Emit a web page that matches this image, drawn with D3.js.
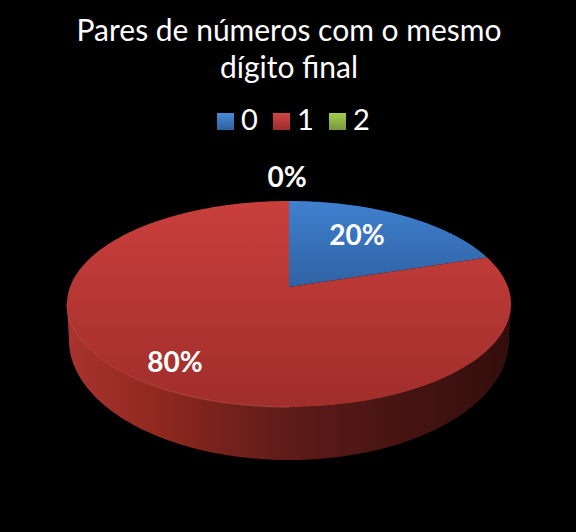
<!DOCTYPE html>
<html>
<head>
<meta charset="utf-8">
<script src="https://cdn.jsdelivr.net/npm/d3@7/dist/d3.min.js"></script>
<style>
  html, body { margin: 0; padding: 0; background: #000; }
  svg { display: block; }
  text { font-family: Lato, "Open Sans", sans-serif; fill: #fff; }
</style>
</head>
<body>
<svg id="chart" width="576" height="532"></svg>
<script>
const titleLines = ['Pares de números com o mesmo', 'dígito final'];
const categories = ['0', '1', '2'];
const values = [20, 80, 0];
const labels = ['20%', '80%', '0%'];

const svg = d3.select('#chart');
const defs = svg.append('defs');

function vGradient(id, top, bottom) {
  const g = defs.append('linearGradient').attr('id', id)
    .attr('x1', 0).attr('y1', 0).attr('x2', 0).attr('y2', 1);
  g.append('stop').attr('offset', '0%').attr('stop-color', top);
  g.append('stop').attr('offset', '100%').attr('stop-color', bottom);
}
vGradient('face0', '#3f80cf', '#2f62a3');
vGradient('face1', '#c93f3c', '#a02e2b');
vGradient('leg0', '#4a8bd6', '#2f5f9e');
vGradient('leg1', '#d04643', '#9c2e2b');
vGradient('leg2', '#a5cc50', '#78983a');

const wallGrad = defs.append('linearGradient').attr('id', 'wall')
  .attr('x1', 0).attr('y1', 0).attr('x2', 1).attr('y2', 0);
[['0%', '#a9332f'], ['20%', '#90291f'], ['50%', '#5e1b19'], ['75%', '#461412'], ['100%', '#330e0c']]
  .forEach(d => wallGrad.append('stop').attr('offset', d[0]).attr('stop-color', d[1]));

// tilted disc: unit circle through a perspective map
const cx = 289, cy = 287;
const sx = d3.scaleLinear().domain([-1, 1]).range([cx - 219, cx + 219]);
const sy = d3.scaleLinear().domain([-1, 1]).range([cy - 100.2, cy + 100.2]);
const persp = -0.165;

function project(angle) {
  const u = Math.sin(angle), v = -Math.cos(angle);
  const w = 1 + persp * v;
  return [sx(u / w), sy(v / w)];
}

// base of the disc is a plain ellipse
const baseX = d3.scaleLinear().domain([-1, 1]).range([cx - 220, cx + 220]);
const baseY = d3.scaleLinear().domain([-1, 1]).range([340 - 120, 340 + 120]);
const projectBase = a => [baseX(Math.sin(a)), baseY(-Math.cos(a))];

const arcs = d3.pie().sort(null)(values);
const line = d3.line();

function sweep(a0, a1, fn = project) {
  const n = Math.max(2, Math.ceil(Math.abs(a1 - a0) * 60));
  return d3.range(n + 1).map(i => fn(a0 + (a1 - a0) * i / n));
}

// side wall, front half of the rim
const rimStart = Math.PI * 0.553, rimEnd = Math.PI * 1.447;
const wallPts = sweep(rimStart, rimEnd)
  .concat(sweep(Math.PI * 1.5, Math.PI * 0.5, projectBase));
svg.append('path').attr('d', line(wallPts) + 'Z').attr('fill', 'url(#wall)');

// top faces
arcs.forEach((a, i) => {
  if (a.endAngle - a.startAngle <= 0) return;
  const pts = [[cx, cy]].concat(sweep(a.startAngle, a.endAngle));
  svg.append('path').attr('d', line(pts) + 'Z').attr('fill', `url(#face${i})`);
});

// rim highlight
svg.append('path').attr('d', line(sweep(Math.PI, rimEnd)))
  .attr('fill', 'none').attr('stroke', '#d65a55').attr('stroke-width', 1).attr('opacity', 0.6);

// title
svg.selectAll('.title').data(titleLines).enter().append('text')
  .attr('class', 'title')
  .attr('x', 289)
  .attr('y', (d, i) => 41 + i * 37)
  .attr('text-anchor', 'middle')
  .style('font-size', '30px')
  .text(d => d);

// legend
const legendX = d3.scalePoint().domain(categories).range([217, 329]);
const legend = svg.selectAll('.legend').data(categories).enter().append('g')
  .attr('class', 'legend')
  .attr('transform', d => `translate(${legendX(d)},113)`);
legend.append('rect').attr('width', 17).attr('height', 17)
  .attr('fill', (d, i) => `url(#leg${i})`);
legend.append('text').attr('x', 24).attr('y', 16.5)
  .style('font-size', '29px').text(d => d);

// data labels
const labelPos = [[357, 235], [175, 362], [287, 177]];
svg.selectAll('.lab').data(labels).enter().append('text')
  .attr('class', 'lab')
  .attr('x', (d, i) => labelPos[i][0])
  .attr('y', (d, i) => labelPos[i][1])
  .attr('dy', '0.36em')
  .attr('text-anchor', 'middle')
  .style('font-size', '28px')
  .style('font-weight', 700)
  .text(d => d);
</script>
</body>
</html>
